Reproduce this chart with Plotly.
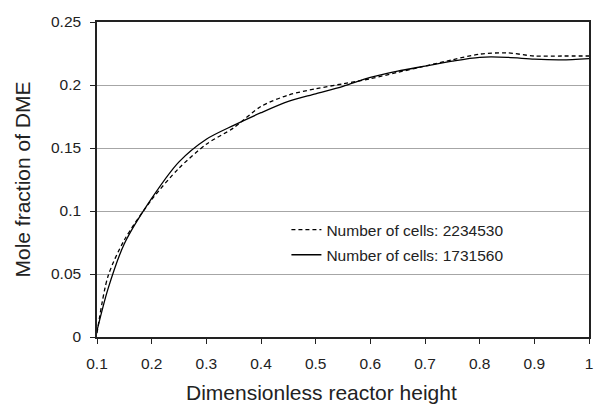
import plotly.graph_objects as go

# Dimensionless reactor height
height = [0.1, 0.12, 0.15, 0.2, 0.25, 0.3, 0.35, 0.4, 0.45, 0.5,
          0.55, 0.6, 0.65, 0.7, 0.75, 0.8, 0.85, 0.9, 0.95, 1.0]

# DME mole fraction, fine mesh
dme_2234530 = [0.003, 0.048, 0.077, 0.109, 0.134, 0.153, 0.166, 0.183, 0.192, 0.197,
               0.201, 0.205, 0.210, 0.215, 0.220, 0.2245, 0.2255, 0.223, 0.223, 0.223]

# DME mole fraction, coarse mesh
dme_1731560 = [0.005, 0.038, 0.074, 0.110, 0.139, 0.157, 0.168, 0.178, 0.187, 0.193,
               0.199, 0.206, 0.211, 0.215, 0.219, 0.222, 0.222, 0.2205, 0.220, 0.221]

x_ticks = [0.1, 0.2, 0.3, 0.4, 0.5, 0.6, 0.7, 0.8, 0.9, 1.0]
x_tick_text = ["0.1", "0.2", "0.3", "0.4", "0.5", "0.6", "0.7", "0.8", "0.9", "1"]
y_ticks = [0, 0.05, 0.1, 0.15, 0.2, 0.25]
y_tick_text = ["0", "0.05", "0.1", "0.15", "0.2", "0.25"]

font_family = "Liberation Sans, Arial, sans-serif"

fig = go.Figure()
fig.add_trace(go.Scatter(
    x=height, y=dme_2234530, mode="lines", name="Number of cells: 2234530",
    legendgroup="fine",
    line=dict(color="black", width=1.3, dash="4px,3px", shape="spline", smoothing=0.8),
))
fig.add_trace(go.Scatter(
    x=height, y=dme_1731560, mode="lines", name="Number of cells: 1731560",
    legendgroup="coarse",
    line=dict(color="black", width=1.3, shape="spline", smoothing=0.8),
))

fig.update_layout(
    width=596, height=406,
    margin=dict(l=97, r=3, t=22, b=69),
    paper_bgcolor="white", plot_bgcolor="white",
    font=dict(family=font_family, size=15.5, color="#222"),
    showlegend=True,
    legend=dict(
        x=0.385, y=0.30, xanchor="left", yanchor="middle",
        bgcolor="rgba(255,255,255,0)", font=dict(size=15.5, color="#222"),
        tracegroupgap=2,
    ),
    xaxis=dict(
        range=[0.1, 1.0], tickvals=x_ticks, ticktext=x_tick_text,
        showgrid=False, zeroline=False,
        showline=True, linecolor="#222", linewidth=1.5, mirror=True,
        ticks="outside", ticklen=5, tickcolor="#222", tickwidth=1,
        ticklabelstandoff=7,
    ),
    yaxis=dict(
        range=[0, 0.25], tickvals=y_ticks, ticktext=y_tick_text,
        showgrid=True, gridcolor="#a6a6a6", gridwidth=1.3, zeroline=False,
        showline=True, linecolor="#222", linewidth=1.5, mirror=True,
        ticks="outside", ticklen=5, tickcolor="#222", tickwidth=1,
        ticklabelstandoff=6,
        title=dict(text="Mole fraction of DME", font=dict(size=21), standoff=15),
    ),
    annotations=[dict(
        text="Dimensionless reactor height", xref="paper", yref="paper",
        x=0.456, y=-0.133, xanchor="center", yanchor="top",
        showarrow=False, font=dict(size=21, color="#222"),
    )],
)

fig.write_html("out.html")
